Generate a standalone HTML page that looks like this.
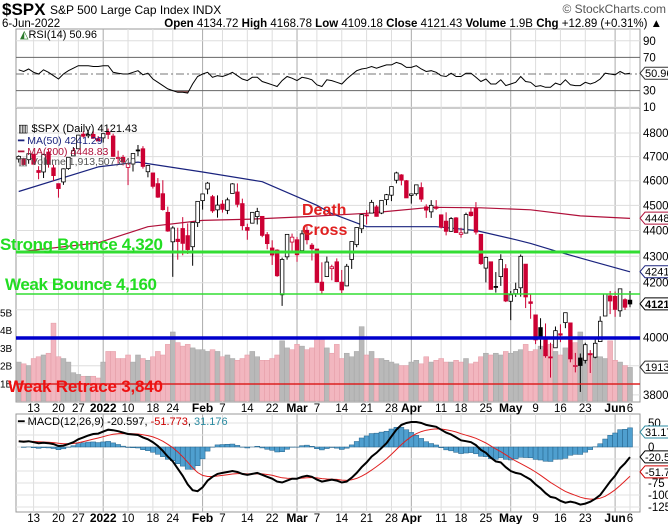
<!DOCTYPE html>
<html><head><meta charset="utf-8"><style>
html,body{margin:0;padding:0;background:#fff;}
svg{display:block;font-family:"Liberation Sans",Arial,sans-serif;}
</style></head><body>
<svg id="chart" width="668" height="524" viewBox="0 0 668 524" xmlns="http://www.w3.org/2000/svg">
<defs><clipPath id="rsiclip"><rect x="16" y="91" width="624" height="20"/></clipPath></defs>
<g id="grid"></g>
<text x="2" y="15" font-size="17" font-weight="bold">$SPX</text>
<text x="50" y="14" font-size="12">S&amp;P 500 Large Cap Index  INDX</text>
<text x="666" y="13" font-size="12" fill="#555" text-anchor="end">© StockCharts.com</text>
<text x="2" y="27" font-size="11.5">6-Jun-2022</text>
<text x="662" y="27" font-size="11.5" text-anchor="end"><tspan font-weight="bold">Open</tspan> 4134.72  <tspan font-weight="bold">High</tspan> 4168.78  <tspan font-weight="bold">Low</tspan> 4109.18  <tspan font-weight="bold">Close</tspan> 4121.43  <tspan font-weight="bold">Volume</tspan> 1.9B  <tspan font-weight="bold">Chg</tspan> +12.89 (+0.31%) ▲</text>
<g id="vol"></g>
<g id="price"></g>
<g id="rsi"></g>
<g id="macd"></g>
<g id="axes"></g>
<text x="20" y="38" font-size="11"><tspan fill="#2a7a2a">◭</tspan>RSI(14) 50.96</text>
<text x="18" y="132" font-size="11">▥ $SPX (Daily) 4121.43</text>
<text x="18" y="144" font-size="10.5" fill="#1a237e">━ MA(50) 4241.29</text>
<text x="18" y="155" font-size="10.5" fill="#b0103a">━ MA(200) 4448.83</text>
<text x="18" y="165" font-size="10.5" fill="#555">▥ Volume 1,913,507,840</text>
<text x="18" y="425" font-size="11">━ MACD(12,26,9) -20.597, <tspan fill="#c00">-51.773</tspan>, <tspan fill="#2a8aa0">31.176</tspan></text>
<line x1="16" x2="640" y1="252" y2="252" stroke="#33dd33" stroke-width="3"/>
<line x1="16" x2="640" y1="294" y2="294" stroke="#33dd33" stroke-width="1.5"/>
<line x1="16" x2="640" y1="338" y2="338" stroke="#0000cc" stroke-width="3.5"/>
<line x1="16" x2="640" y1="384" y2="384" stroke="#dd2222" stroke-width="1.5"/>
<text x="0" y="250" font-size="17" font-weight="bold" fill="#22dd22" textLength="163">Strong Bounce 4,320</text>
<text x="5" y="290" font-size="17" font-weight="bold" fill="#22dd22" textLength="152">Weak Bounce 4,160</text>
<text x="8" y="392" font-size="17" font-weight="bold" fill="#ee1111" textLength="155">Weak Retrace 3,840</text>
<text x="302" y="215" font-size="16" font-weight="bold" fill="#e02020">Death</text>
<text x="302" y="235" font-size="16" font-weight="bold" fill="#e02020">Cross</text>
</svg>
<script>
const opens=[4690,4691,4687,4710,4642,4636,4719,4653,4588,4595,4650,4703,4733,4795,4788,4794,4776,4779,4804,4787,4693,4697,4655,4669,4728,4733,4637,4632,4588,4547,4472,4356,4366,4408,4380,4337,4431,4519,4566,4535,4482,4505,4480,4548,4554,4507,4412,4429,4455,4456,4384,4332,4324,4155,4298,4355,4364,4322,4401,4343,4328,4202,4223,4253,4279,4202,4188,4288,4345,4407,4462,4469,4494,4469,4523,4541,4602,4624,4600,4540,4547,4572,4494,4474,4494,4462,4437,4397,4450,4385,4390,4473,4489,4385,4255,4279,4186,4223,4253,4131,4159,4181,4270,4129,4081,4035,3991,3931,3963,4013,4053,4052,3900,3927,3919,3942,3930,3985,4077,4151,4149,4096,4137,4135];
const highs=[4705,4695,4713,4710,4660,4712,4731,4666,4588,4651,4698,4740,4791,4807,4804,4809,4787,4797,4819,4797,4725,4707,4673,4714,4749,4744,4665,4632,4611,4602,4495,4417,4411,4453,4428,4432,4516,4546,4595,4542,4540,4521,4531,4590,4589,4527,4427,4473,4490,4456,4394,4362,4327,4295,4385,4388,4375,4401,4417,4351,4328,4277,4299,4268,4292,4248,4271,4357,4412,4465,4481,4522,4501,4521,4546,4576,4637,4627,4603,4548,4583,4593,4504,4521,4521,4464,4472,4453,4453,4411,4471,4489,4513,4386,4299,4279,4240,4308,4270,4169,4200,4307,4270,4157,4082,4069,4050,3981,4039,4047,4089,4052,3945,3943,3981,3955,3999,4076,4158,4169,4167,4177,4142,4169];
const lows=[4675,4665,4670,4667,4606,4611,4654,4600,4531,4583,4645,4703,4733,4780,4778,4775,4766,4759,4774,4699,4671,4663,4582,4638,4702,4650,4614,4568,4530,4479,4395,4222,4287,4304,4309,4264,4414,4483,4545,4470,4451,4471,4465,4548,4492,4401,4364,4429,4424,4374,4327,4267,4222,4114,4287,4315,4279,4322,4346,4284,4202,4157,4223,4209,4202,4161,4187,4252,4335,4390,4424,4469,4455,4465,4501,4517,4589,4581,4530,4507,4539,4514,4450,4450,4482,4408,4381,4395,4392,4372,4390,4455,4384,4267,4201,4175,4163,4188,4128,4062,4147,4148,4106,4067,3976,3958,3928,3859,3963,3983,4033,3912,3877,3810,3908,3875,3926,3984,4077,4084,4074,4074,4099,4109];
const closes=[4701,4667,4712,4668,4634,4709,4668,4621,4568,4649,4697,4725,4791,4786,4793,4778,4766,4797,4794,4701,4696,4677,4670,4713,4726,4659,4663,4577,4533,4483,4398,4410,4357,4350,4326,4432,4516,4546,4590,4478,4501,4484,4522,4587,4504,4419,4401,4472,4475,4381,4349,4305,4226,4288,4385,4374,4306,4387,4364,4329,4201,4171,4278,4260,4204,4173,4262,4357,4412,4463,4461,4512,4456,4520,4543,4576,4632,4602,4530,4546,4583,4525,4481,4500,4488,4413,4397,4447,4392,4391,4463,4459,4394,4272,4296,4175,4183,4288,4132,4155,4175,4300,4147,4123,3991,4001,3935,3930,4024,4008,4089,3924,3901,3901,3974,3941,3979,4058,4158,4132,4101,4177,4109,4121];
const volumes=[2.2,2.1,2.0,2.4,2.5,2.6,2.7,4.4,2.5,2.4,2.2,1.6,1.5,1.4,1.4,1.4,1.3,2.2,2.8,2.8,2.4,2.4,2.6,2.2,2.6,2.4,2.3,2.5,2.8,2.6,3.2,3.9,3.3,3.1,3.2,3.0,2.9,2.9,2.8,2.9,2.8,2.5,2.6,2.4,2.3,2.4,2.6,2.8,2.5,2.3,2.3,2.4,2.6,3.4,3.0,2.9,3.2,3.1,2.9,3.0,3.6,3.6,3.0,2.7,3.2,2.4,2.7,2.5,2.8,4.2,2.6,2.8,2.4,2.4,2.3,2.2,2.1,2.0,2.0,2.2,2.3,2.1,2.5,2.2,2.3,2.4,2.2,2.2,2.3,2.2,2.4,2.1,2.2,2.5,2.7,2.6,2.7,2.6,2.8,2.7,2.8,2.9,3.2,2.8,2.9,3.1,2.9,3.2,2.8,2.6,3.0,2.9,3.3,3.9,2.7,2.7,2.5,2.5,2.4,3.4,2.3,2.2,2.0,1.9];
const rsiValues=[55,53,56,52,50,55,52,48,44,50,54,57,60,60,60,59,59,60,60,52,51,50,50,52,54,49,51,44,40,36,32,30,28,28,27,38,47,50,52,46,48,47,49,52,48,44,42,46,46,41,39,37,35,42,47,45,42,46,45,43,37,35,43,42,40,38,44,49,54,56,57,59,57,59,61,61,64,62,58,58,60,56,53,54,52,48,47,51,47,47,51,51,46,41,44,38,38,43,36,38,40,47,41,40,35,36,34,34,39,37,43,37,36,36,40,38,40,44,51,50,49,53,50,51];
const macdValues=[12,11,12,10,8,9,8,6,2,3,6,10,16,20,24,27,28,32,36,35,33,30,27,26,25,20,16,10,2,-8,-20,-30,-45,-60,-78,-90,-92,-84,-70,-62,-56,-54,-52,-50,-52,-56,-58,-56,-54,-58,-62,-66,-72,-74,-70,-66,-66,-62,-60,-62,-68,-72,-70,-68,-70,-74,-72,-64,-54,-42,-32,-20,-12,-2,8,22,36,46,50,52,52,50,46,44,42,36,30,26,20,14,12,10,4,-6,-12,-22,-30,-32,-42,-50,-54,-56,-62,-68,-78,-86,-96,-104,-106,-112,-116,-114,-116,-120,-118,-114,-108,-100,-86,-72,-60,-44,-34,-21];
const ma50Idx=[0,16,24,37,49,60,63,70,84,92,100,103,109,115,123];
const ma50Vals=[4556,4657,4677,4636,4596,4500,4467,4415,4415,4400,4364,4350,4315,4283,4241];
const ma200Idx=[0,16,26,37,47,58,70,83,93,103,113,123];
const ma200Vals=[4317,4352,4415,4440,4445,4455,4468,4492,4490,4482,4458,4448];
const dateIdx=[3,8,12,17,22,27,31,37,41,46,51,56,60,65,70,75,79,85,89,94,99,104,109,114,120,123];
const dateLabels=["13","20","27","2022","10","18","24","Feb","7","14","22","Mar","7","14","21","28","Apr","11","18","25","May","9","16","23","Jun","6"];
const monthLabels=["2022","Feb","Mar","Apr","May","Jun"];
const priceTicks=[4800,4700,4600,4500,4400,4300,4200,4000,3800];
const priceGrid=[3800,3900,4000,4100,4200,4300,4400,4500,4600,4700,4800];
const volTicks=[1,2,3,4,5];
const rsiTicks=[90,70,50,30,10];
const macdTicks=[50,0,-75,-100,-125];
const macdGrid=[50,25,0,-25,-50,-75,-100,-125];

const NS="http://www.w3.org/2000/svg";
const L=16,R=640;
const xOf=i=>18.7+i*4.97;
const yP=p=>133+1121*Math.log(4800/p);
const yV=v=>401-v*17.7;
const yR=r=>74-(r-50)*0.83;
const yM=m=>447-m*0.48;
function mk(parent,tag,attrs,text){const e=document.createElementNS(NS,tag);for(const k in attrs)e.setAttribute(k,attrs[k]);if(text!==undefined)e.textContent=text;document.getElementById(parent).appendChild(e);return e;}

const fr=[[29,108],[108,402],[414,512]];
fr.forEach(f=>{const e=mk('grid','rect',{x:L,y:f[0],width:R-L,height:f[1]-f[0],fill:'none',stroke:'#999','stroke-width':1});

});
dateIdx.forEach((d,k)=>{const isM=monthLabels.includes(dateLabels[k]);const x=xOf(d);
fr.forEach(f=>{const g=mk('grid','line',{x1:x,x2:x,y1:f[0],y2:f[1],stroke:isM?'#aaa':'#ddd','stroke-width':1});

});
[412,522].forEach(y=>{const t=mk('axes','text',{x:x,y:y,'font-size':isM?12:11.5,'font-weight':isM?'bold':'normal','text-anchor':'middle'},dateLabels[k]);

});});
priceGrid.forEach(p=>{const g=mk('grid','line',{x1:L,x2:R,y1:yP(p),y2:yP(p),stroke:'#ddd'});

});
priceTicks.forEach(p=>{const t=mk('axes','text',{x:643,y:yP(p)+4,'font-size':11.5},String(p));

});
volTicks.forEach(v=>{const t=mk('axes','text',{x:0,y:yV(v)+4,'font-size':10},v+'B');

});
rsiTicks.forEach(r=>{const dark=(r===70||r===30);const g=mk('grid','line',{x1:L,x2:R,y1:yR(r),y2:yR(r),stroke:dark?'#666':(r===50?'#777':'#ddd'),'stroke-dasharray':r===50?'8,3,2,3':'none'});


const t=mk('axes','text',{x:643,y:yR(r)+4,'font-size':11.5},String(r));

});
macdGrid.forEach(m=>{const g=mk('grid','line',{x1:L,x2:R,y1:yM(m),y2:yM(m),stroke:'#e2e2e2'});

});
macdTicks.forEach(m=>{const t=mk('axes','text',{x:648,y:yM(m)+4,'font-size':11.5},String(m));

});

volumes.forEach((v,i)=>{const down=i>0&&closes[i]<closes[i-1];const b=mk('vol','rect',{x:xOf(i)-2.48,y:yV(v),width:4.97,height:401-yV(v),fill:down?'#f2b6bf':'#b9b9b9',stroke:down?'#e39aa5':'#a5a5a5','stroke-width':0.5});

});

function polyFrom(idx,vals){return idx.map((d,k)=>xOf(d).toFixed(1)+','+yP(vals[k]).toFixed(1)).join(' ');}
const m200=mk('price','polyline',{points:polyFrom(ma200Idx,ma200Vals),fill:'none',stroke:'#b0103a','stroke-width':1.2,'stroke-linejoin':'round'});


const m50=mk('price','polyline',{points:polyFrom(ma50Idx,ma50Vals),fill:'none',stroke:'#1a237e','stroke-width':1.2,'stroke-linejoin':'round'});



closes.forEach((c,i)=>{const o=opens[i];const col=(i===0||c>=closes[i-1])?'#000':'#cc0033';const x=xOf(i);
const w=mk('price','line',{x1:x,x2:x,y1:yP(highs[i]),y2:yP(lows[i]),stroke:col,'stroke-width':1});


const top=yP(Math.max(o,c)),bot=yP(Math.min(o,c));
const b=mk('price','rect',{x:x-1.8,y:top,width:3.6,height:Math.max(1,bot-top),fill:c>o?'#fff':col,stroke:col,'stroke-width':0.8});

});

const rsiPts=rsiValues.map((r,i)=>xOf(i).toFixed(1)+','+yR(r).toFixed(1));
const fillA=mk('rsi','polygon',{points:xOf(0)+','+yR(30)+' '+rsiPts.join(' ')+' '+xOf(rsiValues.length-1)+','+yR(30),fill:'#8b5555','clip-path':'url(#rsiclip)'});


const rl=mk('rsi','polyline',{points:rsiPts.join(' '),fill:'none',stroke:'#000','stroke-width':1});



const signal=[];macdValues.forEach((m,i)=>signal.push(i===0?m:signal[i-1]+0.2*(m-signal[i-1])));
macdValues.forEach((m,i)=>{const h=m-signal[i];const y0=yM(0),y1=yM(h);
const b=mk('macd','rect',{x:xOf(i)-2.48,y:Math.min(y0,y1),width:4.97,height:Math.abs(y1-y0),fill:'#4f9fcf',stroke:'#24628a','stroke-width':0.5});

});
const sl=mk('macd','polyline',{points:signal.map((s,i)=>xOf(i).toFixed(1)+','+yM(s).toFixed(1)).join(' '),fill:'none',stroke:'#e02020','stroke-width':1});


const ml=mk('macd','polyline',{points:macdValues.map((m,i)=>xOf(i).toFixed(1)+','+yM(m).toFixed(1)).join(' '),fill:'none',stroke:'#000','stroke-width':2});



function tag(y,txt,col,bold,name){const x=640;
const p=mk('axes','polygon',{points:`${x},${y} ${x+5},${y-6} ${x+30},${y-6} ${x+30},${y+6} ${x+5},${y+6}`,fill:'#fff',stroke:col,'stroke-width':1});


const t=mk('axes','text',{x:x+5,y:y+4,'font-size':11,'font-weight':bold?'bold':'normal',fill:'#000'},txt);

}
tag(yR(50.96),'50.96','#333',false,'rsi-value-tag');
tag(yP(4448.83),'4448','#b0103a',false,'ma200-value-tag');
tag(yP(4241.29),'4241','#1a237e',false,'ma50-value-tag');
tag(yP(4121.43),'4121.43','#000',true,'close-value-tag');
tag(yV(1.9135),'1913507840','#333',false,'volume-value-tag');
tag(yM(31.176),'31.176','#2a8aa0',false,'hist-value-tag');
tag(yM(-20.597),'-20.597','#000',false,'macd-value-tag');
tag(yM(-51.773),'-51.773','#c00',false,'signal-value-tag');
</script>
</body></html>
